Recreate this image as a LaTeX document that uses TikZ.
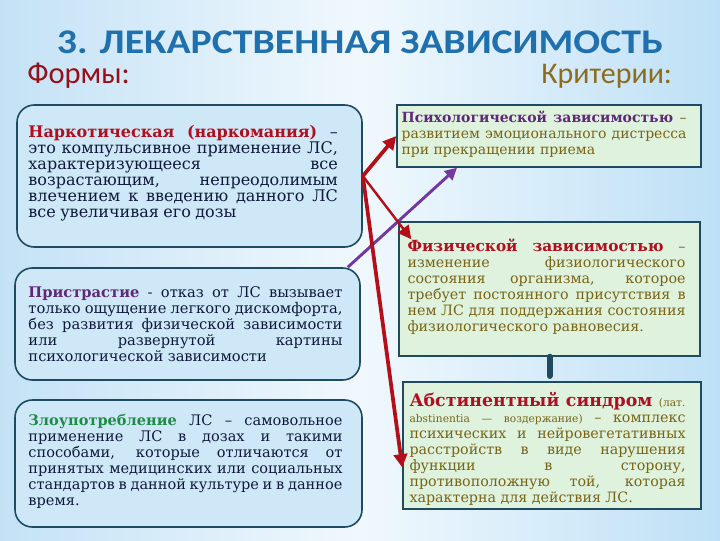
\documentclass[tikz,border=0pt]{standalone}
\usepackage{fontspec}
\usepackage{graphicx}
\setmainfont{DejaVu Serif}
\newfontfamily\titlefont{Carlito}
\usetikzlibrary{arrows.meta}
\definecolor{titleblue}{RGB}{31,112,172}
\definecolor{formred}{RGB}{150,15,25}
\definecolor{critolive}{RGB}{140,108,30}
\definecolor{navy}{RGB}{15,25,60}
\definecolor{hred}{RGB}{175,15,30}
\definecolor{hpurple}{RGB}{95,40,120}
\definecolor{hgreen}{RGB}{30,140,70}
\definecolor{olivetext}{RGB}{120,100,20}
\definecolor{boxblue}{RGB}{206,232,247}
\definecolor{boxgreen}{RGB}{222,242,222}
\definecolor{edge}{RGB}{30,75,95}
\definecolor{arrred}{RGB}{180,15,25}
\definecolor{arrpurple}{RGB}{115,55,160}
\definecolor{bgL}{RGB}{196,226,246}
\definecolor{bgM}{RGB}{240,248,253}
\definecolor{bgR}{RGB}{190,224,246}
\def\tww{200pt}
\newcommand\jl[1]{\hbox to\tww{\spaceskip=0pt plus 1fil\xspaceskip=0pt plus 1fil\relax #1}}
\newcommand\lastl[1]{\hbox{#1}}
\tikzset{
  formbox/.style={draw=edge, line width=1.2pt, fill=boxblue, rounded corners=13pt, inner sep=0pt},
  critbox/.style={draw=edge, line width=1.1pt, fill=boxgreen, inner sep=0pt},
  ftext/.style={inner sep=0pt, anchor=west, text=navy},
  ctext/.style={inner sep=0pt, anchor=west, text=olivetext},
  redarrow/.style={draw=arrred, line width=2.8pt, -{Triangle[length=10pt,width=10pt]}},
  purparrow/.style={draw=arrpurple, line width=2.2pt, -{Triangle[length=9pt,width=9pt]}},
  link/.style={draw=edge, line width=4.5pt, line cap=round},
}
\begin{document}
\begin{tikzpicture}[x=0.75pt,y=-0.75pt]
\useasboundingbox (0,0) rectangle (720,540);
\shade[left color=bgL, right color=bgR, middle color=bgM] (0,0) rectangle (720,540);

\node[inner sep=0pt, text=titleblue] (title) at (360,42)
  {\resizebox{454.5pt}{17pt}{\titlefont\bfseries 3. ЛЕКАРСТВЕННАЯ ЗАВИСИМОСТЬ}};
\node[inner sep=0pt, text=formred, anchor=south west] (forms) at (27,89)
  {\resizebox{77pt}{!}{\titlefont Формы:}};
\node[inner sep=0pt, text=critolive, anchor=south west] (crit) at (541,89)
  {\resizebox{98pt}{!}{\titlefont Критерии:}};

% left boxes
\node[formbox, minimum width=258.75pt, minimum height=106.5pt] (b1) at (189.5,176) {};
\node[formbox, minimum width=258.75pt, minimum height=84pt] (b2) at (187.5,324) {};
\node[formbox, minimum width=260.25pt, minimum height=95.25pt] (b3) at (188.5,463.5) {};
% right boxes
\node[critbox, minimum width=228pt, minimum height=46.5pt] (bA) at (549,136) {};
\node[critbox, minimum width=225.75pt, minimum height=100.5pt] (bB) at (549.5,289) {};
\node[critbox, minimum width=223.5pt, minimum height=95.25pt] (bC) at (552,445.5) {};

% texts
\node[ftext, text width=232pt] (t1) at ([xshift=9pt,yshift=2.25pt]b1.west) {%
\fontsize{12pt}{12.75pt}\selectfont\lineskiplimit=-20pt\def\tww{232pt}%
\jl{\textcolor{hred}{\bfseries Наркотическая (наркомания)} –}
\jl{это компульсивное применение ЛС,}
\jl{характеризующееся все}
\jl{возрастающим, непреодолимым}
\jl{влечением к введению данного ЛС}
\lastl{все увеличивая его дозы}};

\node[ftext, text width=235.5pt] (t2) at ([xshift=10.5pt]b2.west) {%
\fontsize{11pt}{12.75pt}\selectfont\lineskiplimit=-20pt\def\tww{235.5pt}%
\jl{\textcolor{hpurple}{\bfseries Пристрастие} - отказ от ЛС вызывает}
\jl{только ощущение легкого дискомфорта,}
\jl{без развития физической зависимости}
\jl{или развернутой картины}
\lastl{психологической зависимости}};

\node[ftext, text width=235.5pt] (t3) at ([xshift=10.5pt,yshift=1.9pt]b3.west) {%
\fontsize{10.9pt}{12.75pt}\selectfont\lineskiplimit=-20pt\def\tww{235.5pt}%
\jl{\textcolor{hgreen}{\bfseries Злоупотребление} ЛС – самовольное}
\jl{применение ЛС в дозах и такими}
\jl{способами, которые отличаются от}
\jl{принятых медицинских или социальных}
\jl{стандартов в данной культуре и в данное}
\lastl{время.}};

\node[ctext, text width=213.75pt] (tA) at ([xshift=3.75pt,yshift=1.5pt]bA.west) {%
\fontsize{10.5pt}{10.9pt}\selectfont\lineskiplimit=-20pt\def\tww{213.75pt}%
\jl{\textcolor{hpurple}{\bfseries Психологической зависимостью} –}
\jl{развитием эмоционального дистресса}
\lastl{при прекращении приема}};

\node[ctext, text width=208.5pt] (tB) at ([xshift=6.75pt,yshift=1.5pt]bB.west) {%
\fontsize{10.7pt}{11.6pt}\selectfont\lineskiplimit=-20pt\def\tww{208.5pt}%
\jl{\textcolor{hred}{\fontsize{11.5pt}{12pt}\selectfont\bfseries Физической зависимостью} –}
\jl{изменение физиологического}
\jl{состояния организма, которое}
\jl{требует постоянного присутствия в}
\jl{нем ЛС для поддержания состояния}
\lastl{физиологического равновесия.}};

\node[ctext, text width=207pt] (tC) at ([xshift=5.25pt,yshift=-2.6pt]bC.west) {%
\fontsize{10.7pt}{11.6pt}\selectfont\lineskiplimit=-20pt\def\tww{207pt}%
\jl{\textcolor{hred}{\fontsize{13pt}{12pt}\selectfont\bfseries Абстинентный синдром} {\fontsize{8pt}{8pt}\selectfont (лат.}}
\jl{{\fontsize{8pt}{8pt}\selectfont abstinentia — воздержание)} – комплекс}
\jl{психических и нейровегетативных}
\jl{расстройств в виде нарушения}
\jl{функции в сторону,}
\jl{противоположную той, которая}
\lastl{характерна для действия ЛС.}};

% connectors
\draw[purparrow] ([xshift=-9.75pt]b2.north east) -- ([xshift=-69pt]bA.south);
\draw[redarrow] (b1.east) -- (bA.west);
\draw[redarrow, line width=1.8pt] (b1.east) -- ([xshift=9.75pt,yshift=-13.5pt]bB.north west);
\draw[redarrow] (b1.east) -- ([yshift=-16.5pt]bC.west);
\draw[link, shorten >=4pt] (bB.south) -- (bB.south |- bC.north);
\end{tikzpicture}
\end{document}
